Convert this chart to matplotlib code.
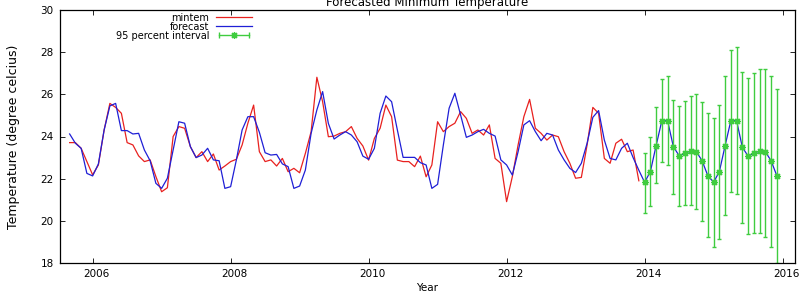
import matplotlib
matplotlib.use("Agg")
import matplotlib.pyplot as plt
import matplotlib.transforms as mtransforms
from matplotlib.lines import Line2D
from matplotlib.legend_handler import HandlerLine2D, HandlerTuple
import numpy as np
import pandas as pd

# observed minimum temperature and fitted values, monthly from Sep 2005
hist_start = "2005-09"
mintem = [23.71, 23.71, 23.44, 22.81,
          22.18, 22.65, 24.31, 25.57, 25.38, 25.10, 23.71, 23.60, 23.08, 22.81, 22.89, 22.10,
          21.38, 21.57, 24.00, 24.47, 24.39, 23.52, 23.00, 23.28, 22.81, 23.17, 22.41, 22.60,
          22.81, 22.92, 23.60, 24.63, 25.49, 23.28, 22.81, 22.89, 22.60, 22.96, 22.33, 22.49,
          22.28, 23.20, 24.23, 26.81, 25.65, 23.99, 24.02, 24.15, 24.23, 24.47, 23.91, 23.55,
          22.88, 23.91, 24.39, 25.49, 24.94, 22.88, 22.81, 22.81, 22.57, 23.07, 22.09, 22.65,
          24.70, 24.23, 24.47, 24.63, 25.18, 24.86, 24.15, 24.31, 24.07, 24.55, 22.96, 22.73,
          20.91, 22.10, 23.60, 24.94, 25.76, 24.39, 24.15, 23.83, 24.07, 23.99, 23.28, 22.73,
          22.02, 22.06, 23.60, 25.38, 25.10, 22.96, 22.73, 23.68, 23.87, 23.28, 23.36, 21.90]
fitted = [24.12, 23.68, 23.44, 22.25,
          22.13, 22.70, 24.31, 25.45, 25.57, 24.28, 24.28, 24.12, 24.15, 23.36, 22.85, 21.78,
          21.54, 22.02, 23.36, 24.70, 24.63, 23.52, 23.00, 23.12, 23.44, 22.89, 22.85, 21.54,
          21.62, 22.89, 24.31, 24.94, 24.94, 24.20, 23.23, 23.12, 23.15, 22.70, 22.57, 21.54,
          21.65, 22.41, 24.15, 25.26, 26.13, 24.62, 23.88, 24.07, 24.23, 24.07, 23.75, 23.07,
          22.92, 23.44, 25.10, 25.92, 25.65, 24.31, 23.01, 23.01, 23.01, 22.76, 22.65, 21.54,
          21.73, 23.60, 25.34, 26.05, 25.02, 23.96, 24.07, 24.23, 24.34, 24.15, 24.02, 22.89,
          22.65, 22.17, 23.28, 24.55, 24.75, 24.23, 23.80, 24.15, 24.07, 23.36, 22.89, 22.49,
          22.29, 22.73, 23.68, 24.91, 25.23, 23.83, 22.96, 22.89, 23.44, 23.68, 23.00, 22.40]

# forecast, monthly from Jan 2014
fc_start = "2014-01"
fc_mean = [21.83, 22.33, 23.56, 24.75, 24.75, 23.52, 23.09, 23.20, 23.31, 23.28, 22.85, 22.14,
           21.83, 22.33, 23.56, 24.75, 24.75, 23.49, 23.07, 23.20, 23.31, 23.28, 22.85, 22.14]
fc_lower = [20.39, 20.72, 21.78, 22.78, 22.65, 21.26, 20.72, 20.75, 20.75, 20.55, 20.00, 19.25,
            18.74, 19.12, 20.28, 21.35, 21.26, 19.88, 19.37, 19.44, 19.44, 19.25, 18.77, 18.00]
fc_upper = [23.23, 23.96, 25.38, 26.71, 26.87, 25.73, 25.45, 25.70, 25.94, 26.00, 25.65, 25.10,
            24.86, 25.49, 26.87, 28.10, 28.23, 27.08, 26.76, 27.00, 27.19, 27.22, 26.87, 26.25]

year_ticks = [2006, 2008, 2010, 2012, 2014, 2016]
temp_ticks = [18, 20, 22, 24, 26, 28, 30]

RED = "#e8211f"
BLUE = "#1f1fd6"
GREEN = "#3fcc3f"


def decimal_year(idx):
    return np.asarray(idx.year + (idx.month - 1) / 12.0, dtype=float)


t_hist = decimal_year(pd.date_range(hist_start, periods=len(mintem), freq="MS"))
t_fc = decimal_year(pd.date_range(fc_start, periods=len(fc_mean), freq="MS"))
fc_mean = np.array(fc_mean)
yerr = [fc_mean - np.array(fc_lower), np.array(fc_upper) - fc_mean]

plt.rcParams["font.family"] = "DejaVu Sans"
plt.rcParams["font.size"] = 7.5

fig = plt.figure(figsize=(8.12, 2.92), dpi=100)
ax = fig.add_axes([60 / 812, 29 / 292, 735 / 812, 253 / 292])

ax.plot(t_hist, mintem, color=RED, lw=0.9)
ax.plot(np.concatenate([t_hist, t_fc]), np.concatenate([fitted, fc_mean]), color=BLUE, lw=0.9)
ax.errorbar(t_fc, fc_mean, yerr=yerr, fmt="none", ecolor=GREEN, elinewidth=1.0,
            capsize=1.7, capthick=1.0)
ax.plot(t_fc, fc_mean, ls="none", marker=(8, 2, 0), ms=5, mew=0.9, color=GREEN)

ax.set_xlim(2005.527, 2016.18)
ax.set_ylim(18, 30)
ax.set_xticks(year_ticks)
ax.set_xticklabels([str(y) for y in year_ticks])
ax.set_yticks(temp_ticks)
ax.tick_params(direction="in", length=3.3, width=0.6, top=True, right=True, pad=4.5)
for lab in ax.get_xticklabels():
    lab.set_transform(lab.get_transform() + mtransforms.ScaledTranslation(4 / 100, 0, fig.dpi_scale_trans))
for s in ax.spines.values():
    s.set_linewidth(0.9)

ax.set_title("Forecasted Minimum Temperature", fontsize=8.5, pad=3)
ax.set_xlabel("Year", labelpad=3)
ax.set_ylabel("Temperature (degree celcius)", fontsize=9, labelpad=15)

h_red = Line2D([], [], color=RED, lw=0.9)
h_blue = Line2D([], [], color=BLUE, lw=0.9)
h_caps = Line2D([], [], color=GREEN, lw=1.0, marker="|", ms=4, mew=1.0)
h_star = Line2D([], [], color=GREEN, ls="none", marker=(8, 2, 0), ms=5, mew=0.9)
ax.legend([h_red, h_blue, (h_caps, h_star)], ["mintem", "forecast", "95 percent interval"],
          handler_map={h_caps: HandlerLine2D(numpoints=2), h_star: HandlerLine2D(numpoints=1),
                       tuple: HandlerTuple(ndivide=1)},
          loc="upper right", bbox_to_anchor=((252 - 60) / 735, 0.99), frameon=False,
          markerfirst=False, borderpad=0, borderaxespad=0, handlelength=3.7,
          handletextpad=0.7, labelspacing=-0.1, fontsize=7)

fig.savefig("out.png", dpi=100)
